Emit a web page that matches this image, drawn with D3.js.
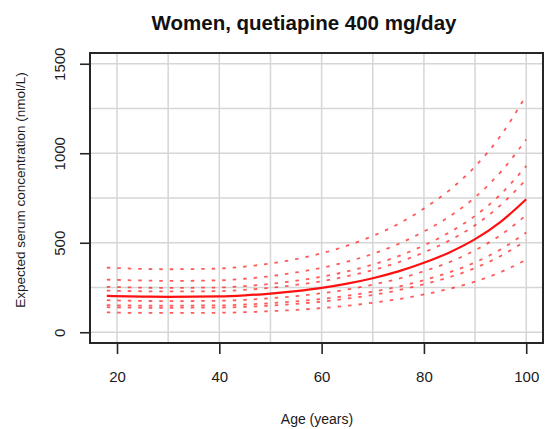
<!DOCTYPE html>
<html>
<head>
<meta charset="utf-8">
<script src="https://cdn.jsdelivr.net/npm/d3@7"></script>
<style>
  html, body { margin: 0; padding: 0; background: #fff; }
  svg { display: block; font-family: "Liberation Sans", Arial, sans-serif; }
</style>
</head>
<body>
<svg id="chart" width="545" height="429"></svg>
<script>
// ---- data ----
const ages = [18, 25, 30, 40, 45, 50, 55, 60, 65, 70, 75, 80, 85, 90, 95, 100];
const meanCurve = [203, 199, 198, 200, 206, 216, 230, 248, 272, 302, 340, 388, 446, 520, 617, 743];
const dashedA = [361, 354, 352, 356, 367, 384, 409, 441, 484, 538, 605, 691, 794, 926, 1098, 1323];
const dashedB = [294, 289, 287, 290, 299, 313, 334, 360, 394, 438, 493, 563, 647, 754, 895, 1077];
const dashedC = [254, 249, 248, 250, 258, 270, 288, 310, 340, 378, 425, 485, 558, 650, 771, 929];
const dashedD = [233, 229, 228, 230, 237, 248, 265, 285, 313, 347, 391, 446, 513, 598, 710, 854];
const dashedE = [179, 175, 174, 176, 181, 190, 202, 218, 239, 266, 299, 341, 392, 458, 543, 654];
const dashedF = [152, 149, 149, 150, 155, 162, 173, 186, 204, 227, 255, 291, 335, 390, 463, 557];
const dashedG = [140, 137, 137, 138, 142, 149, 159, 171, 188, 208, 235, 268, 308, 359, 426, 513];
const dashedH = [111, 108, 108, 109, 112, 118, 125, 135, 148, 165, 185, 211, 243, 283, 336, 405];
const dashedCurves = [dashedA, dashedB, dashedC, dashedD, dashedE, dashedF, dashedG, dashedH];
const xTicks = [20, 40, 60, 80, 100];
const yTicks = [0, 500, 1000, 1500];
const xGrid = [20, 30, 40, 50, 60, 70, 80, 90, 100];
const yGrid = [0, 250, 500, 750, 1000, 1250, 1500];
const titleText = "Women, quetiapine 400 mg/day";
const xTitle = "Age (years)";
const yTitle = "Expected serum concentration (nmol/L)";

// ---- layout ----
const svg = d3.select("#chart");
const L = 90, R = 543, T = 53, B = 343;
const x = d3.scaleLinear().domain([14.72, 103.28]).range([L, R]);
const y = d3.scaleLinear().domain([-60, 1560]).range([B, T]);
const ink = "#262626";

// grid
const g = svg.append("g");
g.selectAll("line.vg").data(xGrid).join("line")
  .attr("x1", d => x(d)).attr("x2", d => x(d)).attr("y1", T).attr("y2", B)
  .attr("stroke", "#d6d6d6").attr("stroke-width", 1.5);
g.selectAll("line.hg").data(yGrid).join("line")
  .attr("y1", d => y(d)).attr("y2", d => y(d)).attr("x1", L).attr("x2", R)
  .attr("stroke", "#d6d6d6").attr("stroke-width", 1.5);

// curves
const line = d3.line().x((d, i) => x(ages[i])).y(d => y(d)).curve(d3.curveMonotoneX);
svg.append("g").selectAll("path").data(dashedCurves).join("path")
  .attr("d", line).attr("fill", "none")
  .attr("stroke", "#ff1a1a").attr("stroke-opacity", 0.72)
  .attr("stroke-width", 1.8).attr("stroke-dasharray", "3.5,7");
svg.append("path").datum(meanCurve).attr("d", line).attr("fill", "none")
  .attr("stroke", "#ff1010").attr("stroke-width", 2.2);

// box
svg.append("rect").attr("x", L).attr("y", T).attr("width", R - L).attr("height", B - T)
  .attr("fill", "none").attr("stroke", ink).attr("stroke-width", 2);

// x axis
const xAxis = d3.axisBottom(x).tickValues(xTicks).tickSize(11).tickPadding(17);
const xa = svg.append("g").attr("transform", `translate(0,${B})`).call(xAxis);
xa.select(".domain").remove();
xa.selectAll(".tick line").attr("stroke", ink).attr("stroke-width", 1.6);
xa.selectAll(".tick text").attr("font-size", 15).attr("fill", "#1a1a1a")
  .attr("font-family", "Liberation Sans, Arial, sans-serif");

// y axis
const yAxis = d3.axisLeft(y).tickValues(yTicks).tickFormat(d3.format("d")).tickSize(10).tickPadding(0);
const ya = svg.append("g").attr("transform", `translate(${L},0)`).call(yAxis);
ya.select(".domain").remove();
ya.selectAll(".tick line").attr("stroke", ink).attr("stroke-width", 1.6);
ya.selectAll(".tick text")
  .attr("font-size", 15).attr("fill", "#1a1a1a")
  .attr("font-family", "Liberation Sans, Arial, sans-serif")
  .attr("text-anchor", "middle").attr("dy", null)
  .attr("x", null)
  .attr("transform", `translate(${65 - L},0) rotate(-90)`);

// titles
svg.append("text").attr("x", 304).attr("y", 30).attr("text-anchor", "middle")
  .attr("font-size", 20.5).attr("font-weight", "bold").attr("fill", "#111")
  .text(titleText);
svg.append("text").attr("x", 317).attr("y", 424).attr("text-anchor", "middle")
  .attr("font-size", 14).attr("fill", "#1a1a1a").text(xTitle);
svg.append("text").attr("transform", "translate(25,190) rotate(-90)")
  .attr("text-anchor", "middle").attr("font-size", 13.5).attr("fill", "#1a1a1a")
  .text(yTitle);
</script>
</body>
</html>
